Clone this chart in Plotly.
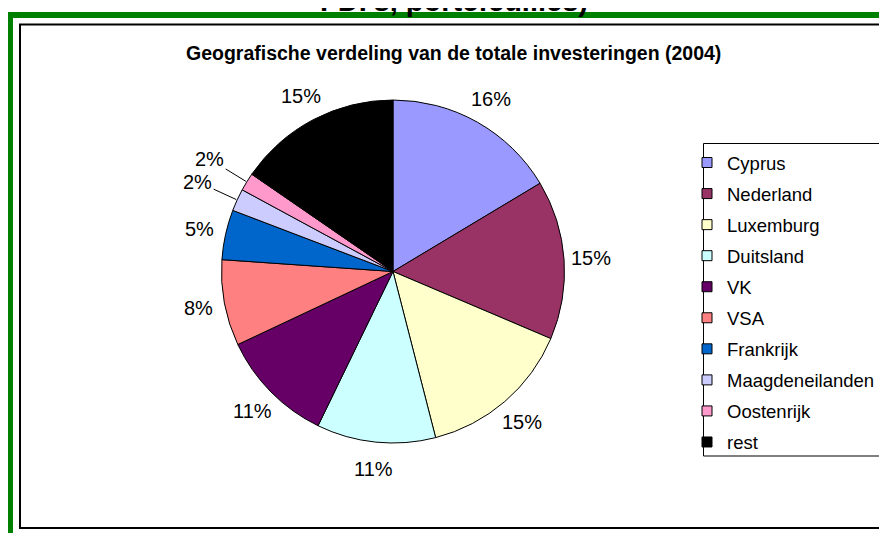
import math
import plotly.graph_objects as go

# Browser page has an 8px body margin; figure fills the rest of the 887x533 window.
OFF = 8
W, H = 887 - OFF, 533 - OFF

countries = ["Cyprus", "Nederland", "Luxemburg", "Duitsland", "VK", "VSA",
             "Frankrijk", "Maagdeneilanden", "Oostenrijk", "rest"]
shares = [16.4, 15.0, 14.6, 11.2, 10.8, 8.1, 4.7, 2.1, 1.7, 15.4]
colors = ["#9999FF", "#993366", "#FFFFCC", "#CCFFFF", "#660066", "#FF8080",
          "#0066CC", "#CCCCFF", "#FF99CC", "#000000"]

page_title = "FDI's, portefeuilles)"
chart_title = "Geografische verdeling van de totale investeringen (2004)"

FONT = "Arial, Liberation Sans, sans-serif"


def px(x):
    return (x - OFF) / W


def py(y):
    return 1 - (y - OFF) / H


# pie geometry (page pixels)
CX, CY, R = 393.0, 271.5, 171.5

fig = go.Figure()

fig.add_trace(go.Pie(
    labels=countries,
    values=shares,
    marker=dict(colors=colors, line=dict(color="black", width=1)),
    sort=False,
    direction="clockwise",
    rotation=0,
    textinfo="none",
    showlegend=False,
    domain=dict(x=[px(CX - R), px(CX + R)], y=[py(CY + R), py(CY - R)]),
    hoverinfo="label+percent",
))

for name, col in zip(countries, colors):
    fig.add_trace(go.Scatter(
        x=[None], y=[None], mode="markers", name=name,
        legendgroup=name,
        marker=dict(symbol="square", size=10, color=col,
                    line=dict(color="black", width=1)),
    ))

# percentage labels outside the slices, placed from each slice's mid angle
annotations = []
total = sum(shares)
cum = 0.0
for v in shares:
    mid = math.radians((cum + v / 2) / total * 360)
    cum += v
    txt = f"{round(v / total * 100)}%"
    lab_font = dict(family=FONT, size=20, color="black")
    if v / total * 100 < 3:
        rl = 215
        tipx = CX + (R + 1) * math.sin(mid)
        tipy = CY - (R + 1) * math.cos(mid)
        lx = CX + rl * math.sin(mid)
        ly = CY - rl * math.cos(mid)
        annotations.append(dict(
            text=txt, xref="paper", yref="paper",
            x=px(tipx), y=py(tipy), ax=lx - tipx, ay=ly - tipy,
            showarrow=True, arrowhead=0, arrowwidth=1, arrowcolor="black",
            font=lab_font, xanchor="center", yanchor="middle"))
    else:
        rl = 198
        lx = CX + rl * math.sin(mid)
        ly = CY - rl * math.cos(mid)
        annotations.append(dict(
            text=txt, xref="paper", yref="paper", x=px(lx), y=py(ly),
            showarrow=False, font=lab_font,
            xanchor="center", yanchor="middle"))

annotations += [
    dict(text="<b>" + page_title + "</b>", xref="paper", yref="paper",
         x=px(454), y=py(19), xanchor="center", yanchor="bottom",
         showarrow=False, font=dict(family=FONT, size=29, color="black")),
    dict(text="<b>" + chart_title + "</b>", xref="paper", yref="paper",
         x=px(454), y=py(53), xanchor="center", yanchor="middle",
         showarrow=False, font=dict(family=FONT, size=19.5, color="black")),
]

shapes = [
    dict(type="rect", xref="paper", yref="paper", x0=px(7), x1=px(13),
         y0=py(540), y1=py(12), fillcolor="#008000", line=dict(width=0), layer="above"),
    dict(type="rect", xref="paper", yref="paper", x0=px(7), x1=px(900),
         y0=py(18), y1=py(12), fillcolor="#008000", line=dict(width=0), layer="above"),
    dict(type="rect", xref="paper", yref="paper", x0=px(20), x1=px(885),
         y0=py(528), y1=py(24.5), fillcolor="rgba(0,0,0,0)",
         line=dict(color="black", width=2), layer="below"),
    # legend frame
    dict(type="rect", xref="paper", yref="paper", x0=px(703.5), x1=px(881),
         y0=py(456), y1=py(143.5), fillcolor="white",
         line=dict(color="black", width=1), layer="below"),
]

fig.update_layout(
    width=W, height=H,
    margin=dict(l=0, r=0, t=0, b=0),
    paper_bgcolor="white", plot_bgcolor="rgba(0,0,0,0)",
    xaxis=dict(visible=False), yaxis=dict(visible=False),
    shapes=shapes,
    annotations=annotations,
    legend=dict(
        x=px(687), xanchor="left", y=py(144), yanchor="top",
        bgcolor="rgba(0,0,0,0)", borderwidth=0,
        font=dict(family=FONT, size=18.5, color="black"),
        tracegroupgap=4, itemwidth=30,
    ),
    font=dict(family=FONT),
)

fig.write_html("out.html")
